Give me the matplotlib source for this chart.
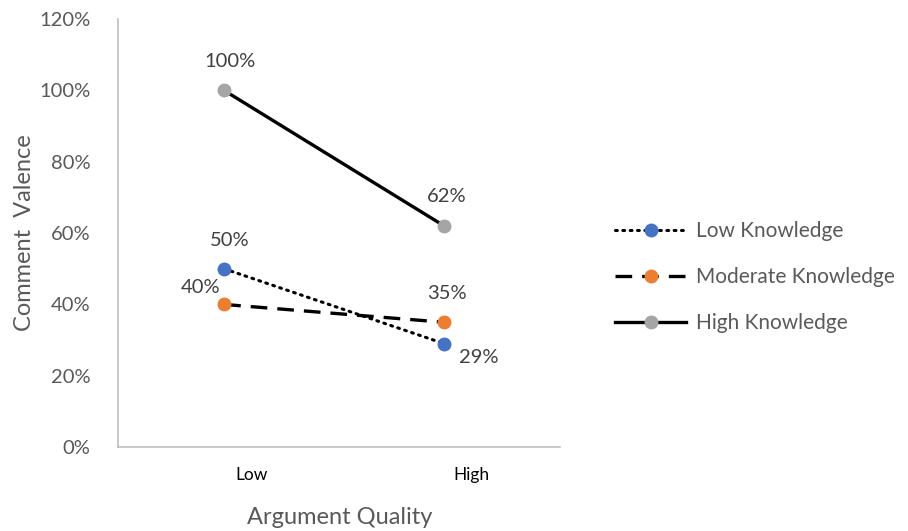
import matplotlib.pyplot as plt
import matplotlib.transforms as mtransforms

# Comment valence by argument quality, one line per knowledge level
quality = ['Low', 'High']
low_knowledge = [0.50, 0.29]
moderate_knowledge = [0.40, 0.35]
high_knowledge = [1.00, 0.62]

plt.rcParams['font.family'] = ['Lato', 'DejaVu Sans']
gray_text = '#595959'

fig = plt.figure(figsize=(9.08, 5.31), dpi=100)
ax = fig.add_axes([0.130, 0.158, 0.487, 0.806])

x = list(range(len(quality)))
ax.plot(x, low_knowledge, color='black', lw=2.2, linestyle=(0, (0.6, 1.8)),
        dash_capstyle='round', marker='o', markersize=9,
        markerfacecolor='#4472C4', markeredgecolor='#4472C4',
        label='Low Knowledge', zorder=3)
ax.plot(x, moderate_knowledge, color='black', lw=2.4, linestyle=(0, (5, 3)),
        marker='o', markersize=9,
        markerfacecolor='#ED7D31', markeredgecolor='#ED7D31',
        label='Moderate Knowledge', zorder=3)
ax.plot(x, high_knowledge, color='black', lw=2.4, linestyle='-',
        marker='o', markersize=9,
        markerfacecolor='#A5A5A5', markeredgecolor='#A5A5A5',
        label='High Knowledge', zorder=3)

# value labels, in points relative to each marker
def put_label(xi, v, dx, dy, ha='center'):
    ax.annotate(f'{v:.0%}', (xi, v), xytext=(dx, dy), textcoords='offset points',
                ha=ha, va='center', fontsize=14.5, color='#404040')

put_label(0, high_knowledge[0], 4, 21)
put_label(1, high_knowledge[1], 2, 21)
put_label(0, low_knowledge[0], 4, 20)
put_label(1, low_knowledge[1], 25, -10)
put_label(0, moderate_knowledge[0], -17, 12)
put_label(1, moderate_knowledge[1], 2, 21)

ax.set_xlim(-0.482, 1.527)
ax.set_ylim(0, 1.2)
ax.set_yticks([0, 0.2, 0.4, 0.6, 0.8, 1.0, 1.2])
ax.set_yticklabels([f'{t:.0%}' for t in ax.get_yticks()])
ax.set_xticks(x)
ax.set_xticklabels(quality)

for side in ['top', 'right']:
    ax.spines[side].set_visible(False)
for side in ['left', 'bottom']:
    ax.spines[side].set_color('#BFBFBF')
    ax.spines[side].set_linewidth(1.2)

ax.tick_params(axis='y', length=0, pad=20, labelsize=14.5, labelcolor=gray_text)
ax.tick_params(axis='x', length=0, pad=14, labelsize=12.5, labelcolor='black')

# category labels sit a little right of their points
shift = mtransforms.ScaledTranslation(0.27, 0, fig.dpi_scale_trans)
for lbl in ax.get_xticklabels():
    lbl.set_transform(lbl.get_transform() + shift)

ax.set_ylabel('Comment  Valence', fontsize=17, color=gray_text, labelpad=3)
fig.text(0.374, 0.026, 'Argument Quality', fontsize=17, color=gray_text,
         ha='center', va='center')

leg = fig.legend(loc='center left', bbox_to_anchor=(0.657, 0.478), frameon=False,
                 fontsize=15, handlelength=3.4, labelspacing=1.25, handletextpad=0.45)
for t in leg.get_texts():
    t.set_color(gray_text)

fig.savefig('out.png', dpi=100)
